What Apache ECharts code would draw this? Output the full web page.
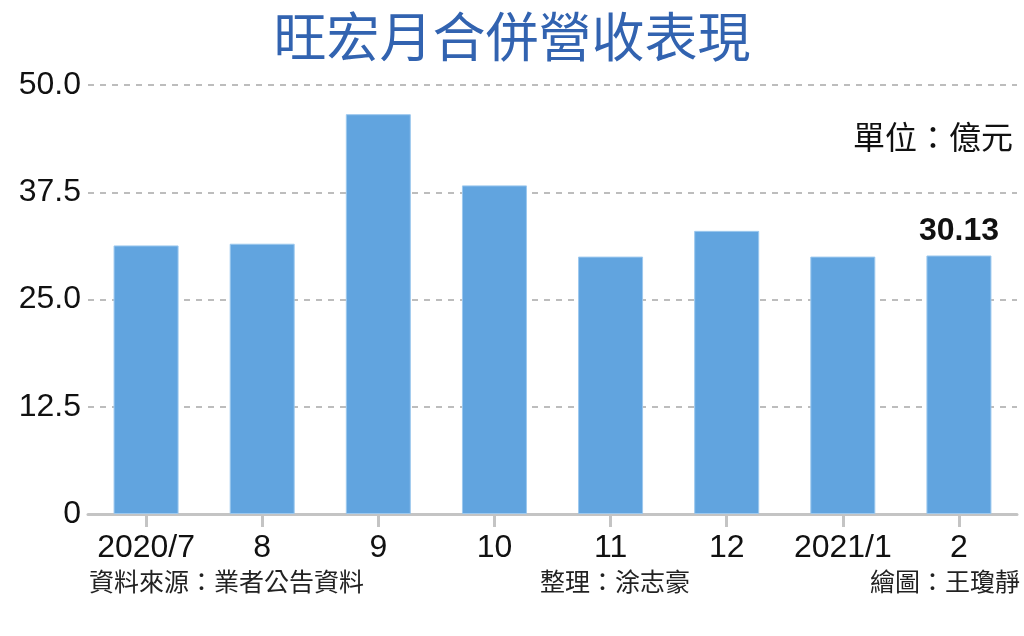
<!DOCTYPE html>
<html>
<head>
<meta charset="utf-8">
<script src="https://cdn.jsdelivr.net/npm/echarts@6/dist/echarts.min.js"></script>
<style>
  html, body { margin: 0; padding: 0; background: #fff; }
  #chart { width: 1024px; height: 636px; }
</style>
</head>
<body>
<div id="chart"></div>
<script>
const months = ["2020/7", "8", "9", "10", "11", "12", "2021/1", "2"];
const revenue = [31.3, 31.5, 46.6, 38.3, 30.0, 33.0, 30.0, 30.13];
const yTicks = [0, 12.5, 25, 37.5, 50];

const numFont = "'Liberation Sans', Arial, sans-serif";
const cjkFont = "'Noto Sans CJK TC', 'Noto Sans CJK SC', sans-serif";

const chart = echarts.init(document.getElementById("chart"));

const option = {
  backgroundColor: "#ffffff",
  animation: false,
  title: {
    text: "旺宏月合併營收表現",
    left: "center",
    top: 5,
    textStyle: {
      color: "#3263b0",
      fontFamily: cjkFont,
      fontSize: 53,
      fontWeight: "normal",
    },
  },
  grid: { left: 88, right: 7, top: 85, bottom: 122 },
  xAxis: {
    type: "category",
    data: months,
    axisLine: { show: true, lineStyle: { color: "#c4c4c4", width: 3 } },
    axisTick: {
      show: true,
      alignWithLabel: true,
      interval: 0,
      inside: false,
      length: 13,
      lineStyle: { color: "#c4c4c4", width: 3 },
    },
    axisLabel: {
      interval: 0,
      color: "#111",
      fontFamily: numFont,
      fontSize: 32,
      margin: 18,
    },
  },
  yAxis: {
    type: "value",
    min: yTicks[0],
    max: yTicks[yTicks.length - 1],
    interval: 12.5,
    axisLine: { show: false },
    axisTick: { show: false },
    axisLabel: {
      color: "#111",
      fontFamily: numFont,
      fontSize: 32,
      margin: 7,
      formatter: (v) => (v === 0 ? "0" : v.toFixed(1)),
    },
    splitLine: { lineStyle: { color: "#bdbdbd", width: 2, type: [6, 6] } },
  },
  series: [
    {
      type: "bar",
      data: revenue.map((v, i) => ({
        value: v,
        label: {
          show: i === revenue.length - 1,
          position: "top",
          distance: 8,
          color: "#111",
          fontFamily: numFont,
          fontWeight: "bold",
          fontSize: 32,
          formatter: (p) => p.value.toFixed(2),
        },
      })),
      barWidth: 65,
      itemStyle: { color: "#61a4df", borderColor: "#9cc8ee", borderWidth: 1 },
    },
  ],
  graphic: [
    {
      type: "text",
      right: 11,
      top: 121,
      style: { text: "單位：億元", fill: "#111", font: "32px " + cjkFont },
    },
    {
      type: "text",
      left: 89,
      top: 569,
      style: { text: "資料來源：業者公告資料", fill: "#222", font: "25px " + cjkFont },
    },
    {
      type: "text",
      left: 540,
      top: 569,
      style: { text: "整理：涂志豪", fill: "#222", font: "25px " + cjkFont },
    },
    {
      type: "text",
      right: 4,
      top: 569,
      style: { text: "繪圖：王瓊靜", fill: "#222", font: "25px " + cjkFont },
    },
  ],
};

chart.setOption(option);
</script>
</body>
</html>
